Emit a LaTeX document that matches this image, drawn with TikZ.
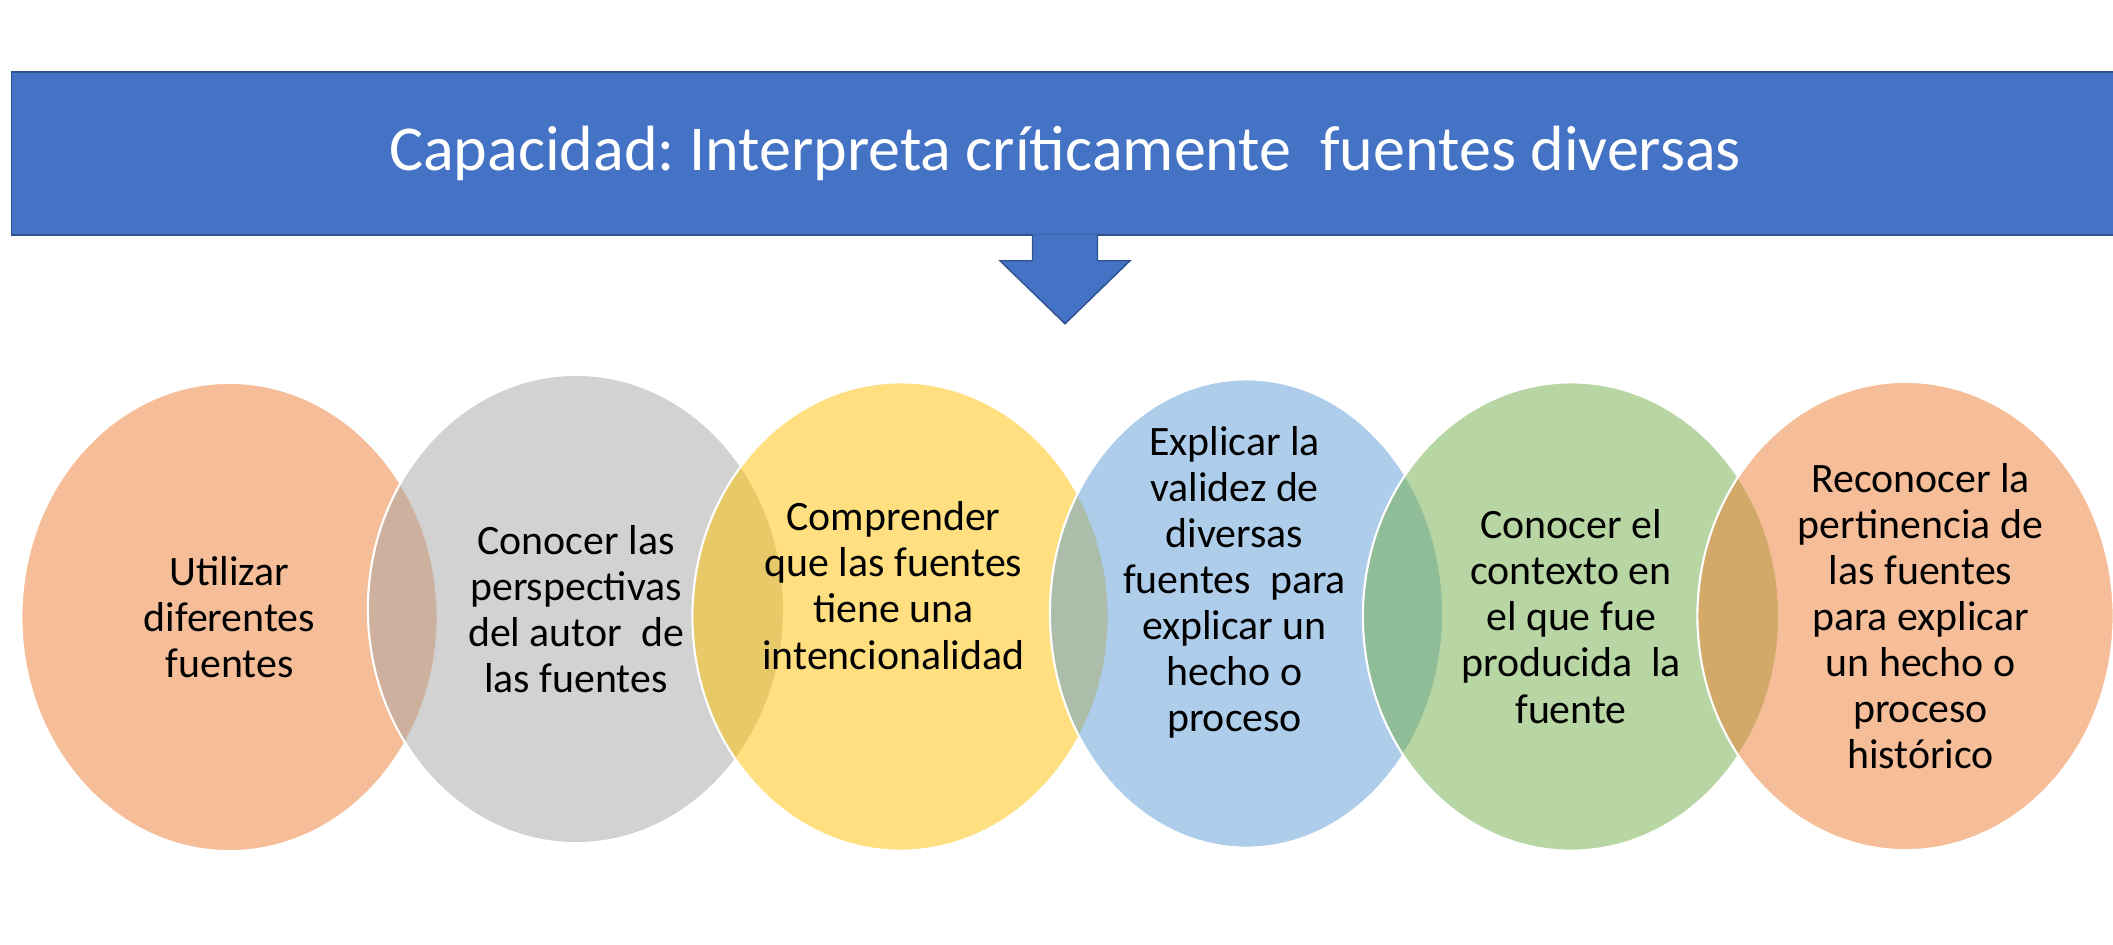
\documentclass[tikz,border=0pt]{standalone}
\usepackage{fontspec}
\setmainfont{Carlito}
\usepackage{xcolor}
\usepackage{tikz}
\usetikzlibrary{positioning, shapes.geometric, calc}
\frenchspacing

\definecolor{capblue}{HTML}{4472C4}
\definecolor{capedge}{HTML}{2F528F}
\definecolor{vorange}{HTML}{ED7D31}
\definecolor{vgrey}{HTML}{A5A5A5}
\definecolor{vyellow}{HTML}{FFC000}
\definecolor{vblue}{HTML}{5B9BD5}
\definecolor{vgreen}{HTML}{70AD47}

\begin{document}
\begin{tikzpicture}[x=0.01cm, y=-0.01cm, every text node part/.style={align=center},
    venn/.style={ellipse, draw=white, line width=0.6pt, fill opacity=0.5, inner sep=0pt,
                 minimum width=4.16cm, minimum height=4.68cm},
    vtext/.style={inner sep=0pt, font=\fontsize{11.9}{13.1}\selectfont}]

    \useasboundingbox (0,0) rectangle (2113,944);

    % Banner with the capacity
    \node[draw=capedge, fill=capblue, minimum width=21.06cm, minimum height=1.63cm,
          text=white, font=\fontsize{18.2}{22}\selectfont] (cap) at (1065,153.5)
        {Capacidad: Interpreta críticamente\ \ fuentes diversas};

    % Arrow down from the banner
    \draw[draw=capedge, fill=capblue] ($(cap.south)+(-32.5,-1.5)$) -- ++(0,26.5) -- ++(-32.5,0)
        -- ++(65,63) -- ++(65,-63) -- ++(-32.5,0) -- ++(0,-26.5);

    % Overlapping circles
    \node[venn, fill=vorange] (e1) at (229.5,617) {};
    \node[venn, fill=vgrey] (e2) at (576,609) {};
    \node[venn, fill=vyellow] (e3) at (900.5,616.5) {};
    \node[venn, fill=vblue, minimum width=3.93cm] (e4) at (1246.5,613.5) {};
    \node[venn, fill=vgreen] (e5) at (1571,616.5) {};
    \node[venn, fill=vorange] (e6) at (1905.5,616) {};

    % Texts of the circles
    \node[vtext] (t1) at (e1) {Utilizar\\diferentes\\fuentes};
    \node[vtext] (t2) at (e2) {Conocer las\\perspectivas\\del autor\ \ de\\las fuentes};
    \node[vtext] (t3) at ($(e3)+(-7,-31)$) {Comprender\\que las fuentes\\tiene una\\intencionalidad};
    \node[vtext] (t4) at ($(e4)+(-12,-31)$) {Explicar la\\validez de\\diversas\\fuentes\ \ para\\explicar un\\hecho o\\proceso};
    \node[vtext] (t5) at (e5) {Conocer el\\contexto en\\el que fue\\producida\ \ la\\fuente};
    \node[vtext] (t6) at ($(e6)+(15,0)$) {Reconocer la\\pertinencia de\\las fuentes\\para explicar\\un hecho o\\proceso\\histórico};

\end{tikzpicture}
\end{document}
